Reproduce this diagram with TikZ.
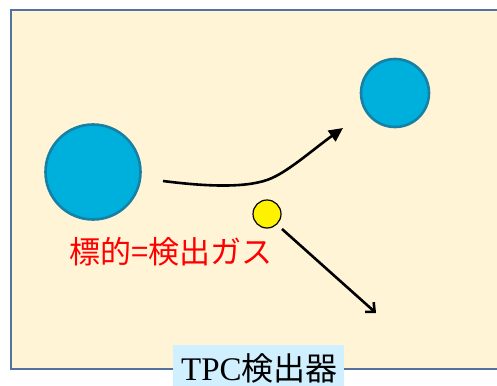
\documentclass[tikz,border=0pt]{standalone}
\usepackage{fontspec}
\setmainfont{Liberation Serif}
\newfontfamily\cjk{Noto Sans CJK JP}
\usetikzlibrary{arrows.meta}
\definecolor{framecol}{RGB}{84,114,160}
\definecolor{bgcol}{RGB}{255,245,214}
\definecolor{ballfill}{RGB}{0,176,220}
\definecolor{balledge}{RGB}{22,128,165}
\definecolor{labelbg}{RGB}{208,240,255}
\tikzset{
  ball/.style={circle, draw=balledge, line width=2.6pt, fill=ballfill, inner sep=0pt},
  target/.style={circle, draw=black, line width=1.2pt, fill=yellow, inner sep=0pt, minimum size=28pt},
  track/.style={line width=2.6pt, draw=black},
}
\begin{document}
\begin{tikzpicture}[x=1pt,y=-1pt]
\useasboundingbox (0,0) rectangle (497,385);
\begin{scope}
\clip (0,0) rectangle (497,385);
\draw[framecol, line width=1.8pt, fill=bgcol] (11,10) rectangle (510,369);
\node[fill=labelbg, inner sep=0pt, minimum width=171pt, minimum height=45pt, anchor=north west] (lbl) at (173,345) {};
\node[anchor=base west, inner sep=0pt, font=\fontsize{33}{36}\selectfont] (tpc) at (181,380) {TPC{\cjk\fontsize{32}{36}\selectfont 検出器}};
\end{scope}
\node[ball, minimum size=95pt] (big) at (93,172) {};
\node[ball, minimum size=68pt] (small) at (395,93) {};
\node[target] (gas) at (267,214) {};
\node[inner sep=0pt, text=red, font=\cjk\fontsize{31}{34}\selectfont] (txt) at (171,252) {標的=検出ガス};
\coordinate (c1s) at (163,181);
\coordinate (c1m) at (272,178);
\coordinate (c1e) at (343,128);
\coordinate (c2s) at (282,229);
\coordinate (c2e) at (376,313);
\draw[track, -{Triangle[length=14pt,width=13pt]}] (c1s) .. controls (210,187) and (250,188) .. (c1m) .. controls (290,170) and (315,148) .. (c1e);
\draw[track, -{Straight Barb[length=7pt,width=13pt]}] (c2s) -- (c2e);
\end{tikzpicture}
\end{document}
